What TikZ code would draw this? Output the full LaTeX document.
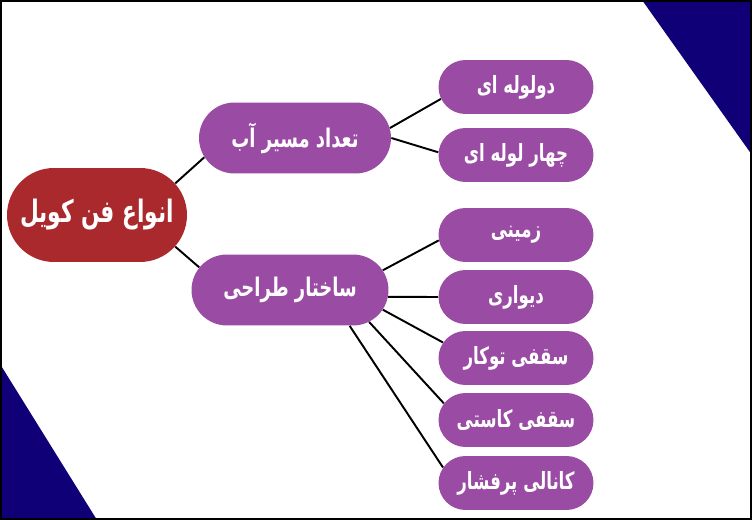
\documentclass[tikz,border=0pt]{standalone}
\usepackage{fontspec}
\newfontfamily\arabicfont[Script=Arabic, FakeStretch=0.7]{DejaVu Sans}
\usetikzlibrary{shapes.misc}
\TeXXeTstate=1
\definecolor{pillpurple}{RGB}{154,75,164}
\definecolor{rootred}{RGB}{170,41,45}
\definecolor{cornerblue}{RGB}{16,0,120}
\tikzset{
  pill/.style={rounded rectangle, fill=pillpurple, text=white, inner sep=0pt},
  leafpill/.style={pill, minimum width=3.1cm, minimum height=1.08cm, font=\arabicfont\bfseries\fontsize{13.5}{16}\selectfont},
  midpill/.style={pill, minimum height=1.42cm, font=\arabicfont\bfseries\fontsize{14.6}{17}\selectfont},
  link/.style={line width=1.1pt, black}
}
\begin{document}
\begin{tikzpicture}[x=0.02cm, y=-0.02cm]
\useasboundingbox (0,0) rectangle (752,520);

% Corner triangles and frame
\fill[cornerblue] (642,0) -- (752,0) -- (752,155) -- cycle;
\fill[cornerblue] (0,364) -- (0,520) -- (97,520) -- cycle;
\draw[line width=1.2pt] (0.6,0.6) rectangle (751.4,519.4);

% Root and the two branches
\node[pill, fill=rootred, minimum width=3.6cm, minimum height=1.88cm, font=\arabicfont\bfseries\fontsize{17.6}{20}\selectfont] (root) at (97,215) {\beginR انواع فن کویل\endR};
\node[midpill, minimum width=3.84cm] (flow) at (295,138) {\beginR تعداد مسیر آب\endR};
\node[midpill, minimum width=3.94cm] (design) at (290,290) {\beginR ساختار طراحی\endR};

% Leaves
\node[leafpill] (twopipe) at (516,87) {\beginR دولوله ای\endR};
\node[leafpill] (fourpipe) at (516,155) {\beginR چهار لوله ای\endR};
\node[leafpill] (floor) at (516,235) {\beginR زمینی\endR};
\node[leafpill] (wall) at (516,297) {\beginR دیواری\endR};
\node[leafpill] (concealed) at (516,358) {\beginR سقفی توکار\endR};
\node[leafpill] (cassette) at (516,420) {\beginR سقفی کاستی\endR};
\node[leafpill] (ducted) at (516,483) {\beginR کانالی پرفشار\endR};

% Connectors
\draw[link] (root.22) -- (flow.192);
\draw[link] (root.-22) -- (design.166);
\draw[link] (flow.6) -- (twopipe.189);
\draw[link] (flow.0) -- (fourpipe.178);
\draw[link] (design.12) -- (floor.184);
\draw[link] (design.-4) -- (wall.180);
\draw[link] (design.-12) -- (concealed.168);
\draw[link] (design.-22) -- (cassette.167);
\draw[link] (design.-31) -- (ducted.168);
\end{tikzpicture}
\end{document}
